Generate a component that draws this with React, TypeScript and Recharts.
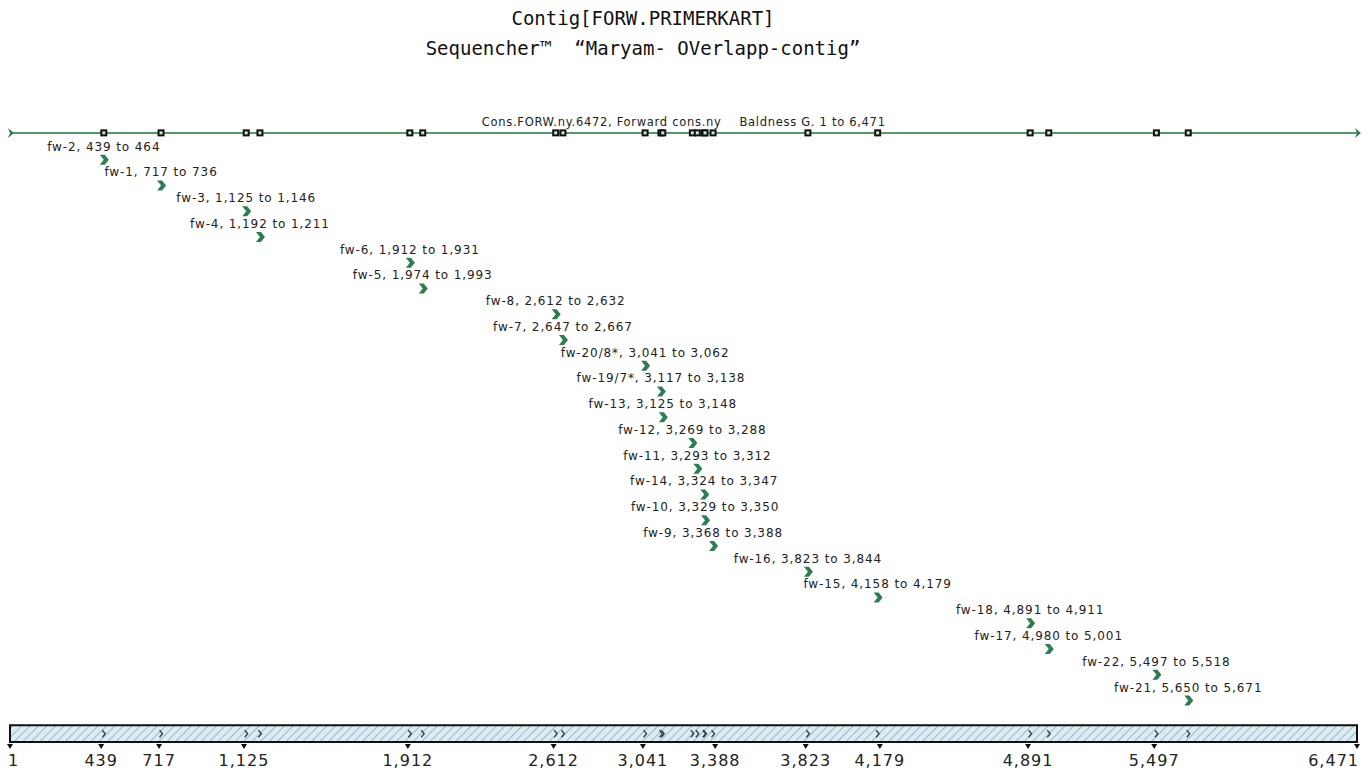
import { ReferenceArea, ReferenceLine, Scatter, ScatterChart, XAxis, YAxis } from 'recharts'

const contigStart = 1
const contigLength = 6471

const primerNames = [
    'fw-2', 'fw-1', 'fw-3', 'fw-4', 'fw-6', 'fw-5', 'fw-8', 'fw-7', 'fw-20/8*', 'fw-19/7*', 'fw-13',
    'fw-12', 'fw-11', 'fw-14', 'fw-10', 'fw-9', 'fw-16', 'fw-15', 'fw-18', 'fw-17', 'fw-22', 'fw-21',
]
const primerStarts = [
    439, 717, 1125, 1192, 1912, 1974, 2612, 2647, 3041, 3117, 3125,
    3269, 3293, 3324, 3329, 3368, 3823, 4158, 4891, 4980, 5497, 5650,
]
const primerEnds = [
    464, 736, 1146, 1211, 1931, 1993, 2632, 2667, 3062, 3138, 3148,
    3288, 3312, 3347, 3350, 3388, 3844, 4179, 4911, 5001, 5518, 5671,
]
const axisTicks = [1, 439, 717, 1125, 1912, 2612, 3041, 3388, 3823, 4179, 4891, 5497, 6471]

const contigName = 'Cons.FORW.ny.6472, Forward cons.ny'
const contigRange = 'Baldness G. 1 to 6,471'

const fmt = (n: number) => n.toLocaleString('en-US')

const primers = primerNames.map((name, i) => ({
    x: (primerStarts[i] + primerEnds[i]) / 2,
    y: i + 1,
    label: `${name}, ${fmt(primerStarts[i])} to ${fmt(primerEnds[i])}`,
}))
const topMarks = primers.map(p => ({ x: p.x, y: 0 }))
const barMarks = primers.map(p => ({ x: p.x, y: 23.33 }))
const lineEnds = [{ x: contigStart, y: 0 }, { x: contigLength, y: 0 }]

const GREEN = '#2c7d50'
const SANS = "'DejaVu Sans', sans-serif"

const PrimerArrow = (props: any) => {
    const { cx, cy, payload } = props
    return (
        <g>
            <text x={cx} y={cy - 8} textAnchor="middle" fontSize={12} letterSpacing={0.9} fill="#222"
                fontFamily={SANS}>{payload.label}</text>
            <path d={`M${cx - 4},${cy - 4} L${cx + 1},${cy - 4} L${cx + 5},${cy + 1} L${cx + 1},${cy + 6} L${cx - 4},${cy + 6} L${cx},${cy + 1} Z`}
                fill={GREEN} />
        </g>
    )
}

const TopSquare = ({ cx, cy }: any) => (
    <g>
        <rect x={cx - 3.5} y={cy - 3.5} width={7} height={7} fill="#111" />
        <rect x={cx - 1.5} y={cy - 1.5} width={3} height={3} fill="#cfe8d6" />
    </g>
)

const LineEnd = ({ cx, cy }: any) => (
    <path d={`M${cx - 2},${cy - 5} L${cx + 4},${cy} L${cx - 2},${cy + 5} L${cx},${cy} Z`} fill={GREEN} />
)

const BarMark = ({ cx, cy }: any) => (
    <path d={`M${cx - 1.5},${cy - 3.5} L${cx + 1.5},${cy} L${cx - 1.5},${cy + 3.5}`} fill="none" stroke="#333" strokeWidth={1.2} />
)

const ContigLabel = ({ viewBox }: any) => {
    const { x, y, width } = viewBox
    const mid = x + width / 2
    return (
        <g fontSize={11.5} letterSpacing={0.7} fill="#222" fontFamily={SANS}>
            <text x={mid + 38} y={y - 7} textAnchor="end">{contigName}</text>
            <text x={mid + 56} y={y - 7} textAnchor="start">{contigRange}</text>
        </g>
    )
}

const AxisTick = ({ x, y, payload, index }: any) => {
    const last = index === axisTicks.length - 1
    const anchor = index === 0 ? 'start' : last ? 'end' : 'middle'
    const dx = index === 0 ? -2 : last ? 2 : 0
    return (
        <g>
            <path d={`M${x - 3},${y + 2} L${x + 3},${y + 2} L${x},${y + 7} Z`} fill="#111" />
            <text x={x + dx} y={y + 24} textAnchor={anchor} fontSize={16} letterSpacing={1} fill="#222"
                fontFamily={SANS}>{fmt(payload.value)}</text>
        </g>
    )
}

export default function App() {
    return (
        <div style={{ position: 'absolute', left: 0, top: 0, width: 1369, height: 774, background: '#fff' }}>
            <div style={{
                position: 'absolute', left: 0, top: 3, width: 1286, textAlign: 'center',
                fontFamily: "'DejaVu Sans Mono', monospace", fontSize: 19, lineHeight: '30px', color: '#111',
            }}>
                <div>Contig[FORW.PRIMERKART]</div>
                <div style={{ whiteSpace: 'pre' }}>Sequencher™  “Maryam- OVerlapp-contig”</div>
            </div>
            <ScatterChart width={1369} height={774} margin={{ top: 120, right: 12, bottom: 0, left: 10 }}>
                <defs>
                    <pattern id="hatch" patternUnits="userSpaceOnUse" width={6} height={6} patternTransform="rotate(45)">
                        <rect width={6} height={6} fill="#dcecf2" />
                        <line x1={0} y1={0} x2={0} y2={6} stroke="#97b9c6" strokeWidth={2} />
                    </pattern>
                </defs>
                <XAxis type="number" dataKey="x" domain={[contigStart, contigLength]} ticks={axisTicks}
                    axisLine={false} tickLine={false} tickSize={0} tickMargin={0} height={32}
                    tick={<AxisTick />} interval={0} />
                <YAxis type="number" dataKey="y" domain={[-0.5, 23.65]} reversed hide />
                <ReferenceArea x1={contigStart} x2={contigLength} y1={23} y2={23.65}
                    fill="url(#hatch)" fillOpacity={1} stroke="#111" strokeWidth={2} />
                <ReferenceLine y={0} stroke="#4f9c6b" strokeWidth={2} label={<ContigLabel />} />
                <Scatter data={lineEnds} shape={<LineEnd />} isAnimationActive={false} />
                <Scatter data={topMarks} shape={<TopSquare />} isAnimationActive={false} />
                <Scatter data={barMarks} shape={<BarMark />} isAnimationActive={false} />
                <Scatter data={primers} shape={<PrimerArrow />} isAnimationActive={false} />
            </ScatterChart>
        </div>
    )
}
